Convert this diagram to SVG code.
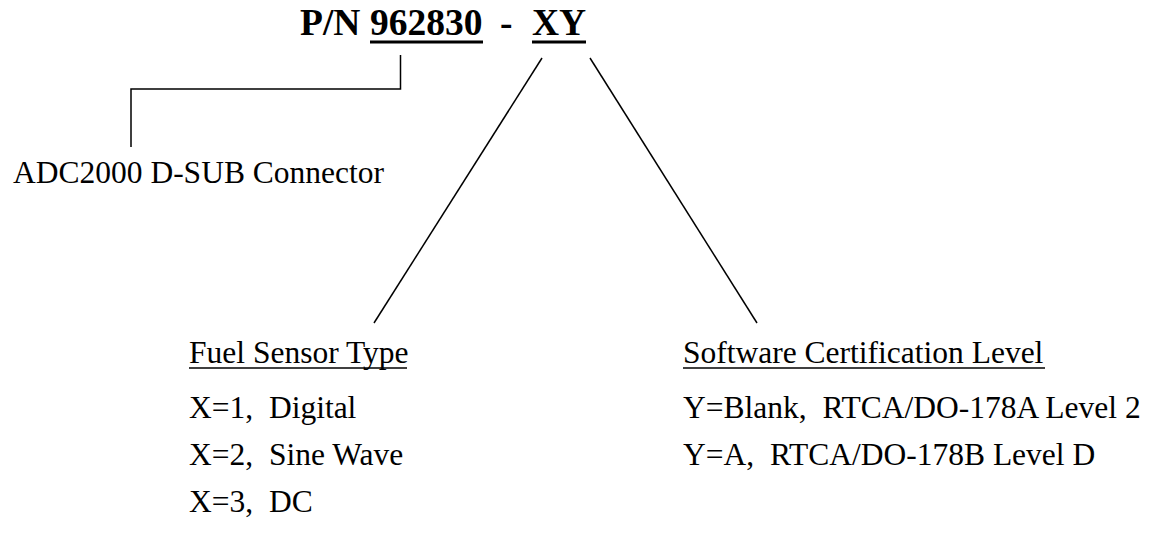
<svg xmlns="http://www.w3.org/2000/svg" width="1169" height="536" viewBox="0 0 1169 536">
<style>
.t{font-family:"Liberation Serif","Times New Roman",serif;fill:#000;white-space:pre}
.title{font-size:37.5px;font-weight:bold}
.body{font-size:31.5px}
.c{stroke:#000;stroke-width:1.5;fill:none}
.u{stroke:#000;fill:none}
</style>
<rect width="1169" height="536" fill="#fff"/>
<g id="connectors">
<polyline class="c" points="131,147 131,89 400.5,89 400.5,55"/>
<line class="c" x1="542" y1="58" x2="374" y2="323"/>
<line class="c" x1="590" y1="58" x2="757" y2="323"/>
</g>
<g id="part-number">
<text class="t title" x="300" y="35">P/N</text>
<text class="t title" x="370" y="35">962830</text>
<text class="t title" x="500" y="35">-</text>
<text class="t title" x="532" y="35">XY</text>
<line class="u" x1="370" y1="42" x2="483" y2="42" stroke-width="2.8"/>
<line class="u" x1="532" y1="42" x2="586" y2="42" stroke-width="2.8"/>
</g>
<g id="connector-label">
<text class="t body" x="13" y="183">ADC2000 D-SUB Connector</text>
</g>
<g id="fuel-sensor-type">
<text class="t body" x="189" y="363">Fuel Sensor Type</text>
<line class="u" x1="189" y1="368" x2="407" y2="368" stroke-width="1.6"/>
<text class="t body" x="189" y="418">X=1,  Digital</text>
<text class="t body" x="189" y="465">X=2,  Sine Wave</text>
<text class="t body" x="189" y="512">X=3,  DC</text>
</g>
<g id="software-certification-level">
<text class="t body" x="683" y="363">Software Certification Level</text>
<line class="u" x1="683" y1="368" x2="1045" y2="368" stroke-width="1.6"/>
<text class="t body" x="683" y="418">Y=Blank,  RTCA/DO-178A Level 2</text>
<text class="t body" x="683" y="465">Y=A,  RTCA/DO-178B Level D</text>
</g>
</svg>
